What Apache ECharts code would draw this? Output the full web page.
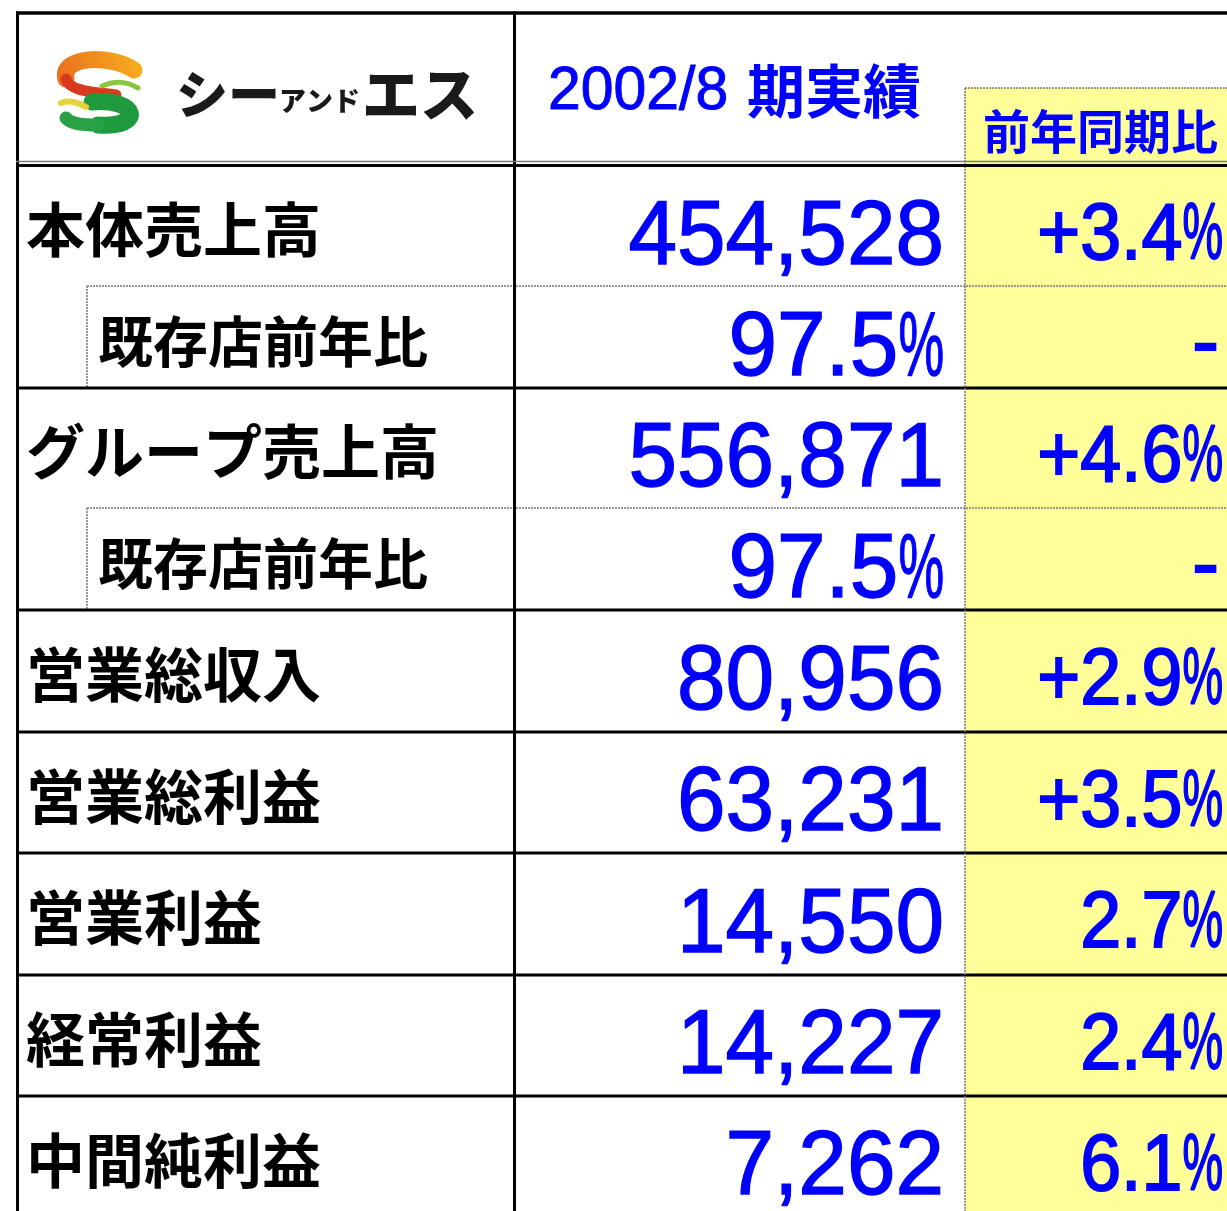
<!DOCTYPE html>
<html>
<head>
<meta charset="utf-8">
<script src="https://cdn.jsdelivr.net/npm/echarts@6/dist/echarts.min.js"></script>
<style>
  html, body { margin: 0; padding: 0; background: #fff; }
  #main { width: 1227px; height: 1211px; }
</style>
</head>
<body>
<div id="main"></div>
<script>
// 表の中身
const labels = ['本体売上高', '既存店前年比', 'グループ売上高', '既存店前年比', '営業総収入', '営業総利益', '営業利益', '経常利益', '中間純利益']
const indented = [false, true, false, true, false, false, false, false, false]
const values = [454528, 97.5, 556871, 97.5, 80956, 63231, 14550, 14227, 7262]
const valueUnits = ['', '%', '', '%', '', '', '', '', '']
const yoy = [3.4, null, 4.6, null, 2.9, 3.5, 2.7, 2.4, 6.1]
const yoyPlus = [true, false, true, false, true, true, false, false, false]

const periodLabel = '2002/8'
const periodSuffix = '期実績'
const yoyHeader = '前年同期比'

// レイアウト
const W = 1227, H = 1211
const tableTop = 166
const rowHeights = [120, 102, 120, 102, 122, 121, 122, 121, 121]
const rowTops = []
let acc = tableTop
rowHeights.forEach(h => { rowTops.push(acc); acc += h })

const NUM_FONT = '"Liberation Sans", Arial, sans-serif'
const JP_FONT = '"Noto Sans CJK JP", sans-serif'
const BLUE = '#0000ff'
const PCT_SX = 0.57

function fmtValue(i) {
  if (valueUnits[i] === '%') return values[i].toFixed(1)
  return values[i].toLocaleString('en-US')
}

// 数字 + 細い%を右寄せで並べる
function numPieces(right, cy, str, pct, size, sx, weight) {
  const out = []
  let r = right
  const st = { align: 'right', verticalAlign: 'middle', font: size + 'px ' + NUM_FONT, fill: BLUE, stroke: BLUE, lineWidth: weight }
  if (pct) {
    out.push({ type: 'text', x: r, y: cy, scaleX: PCT_SX, style: Object.assign({ text: '%' }, st) })
    r -= 0.889 * size * PCT_SX
  }
  out.push({ type: 'text', x: r, y: cy, scaleX: sx, style: Object.assign({ text: str }, st) })
  return out
}

function renderRow(params, api) {
  const i = api.value(0)
  const top = rowTops[i]
  const bottom = top + rowHeights[i]
  const mid = (top + bottom) / 2
  const c = (x, y) => api.coord([x, y])
  const kids = []

  if (i > 0) {
    if (indented[i]) {
      const a = c(87, top), b = c(W, top), d = c(87, bottom)
      kids.push({ type: 'line', shape: { x1: a[0], y1: a[1], x2: b[0], y2: b[1] },
        style: { stroke: '#7a7a7a', lineWidth: 1.5, lineDash: [2, 1] } })
      kids.push({ type: 'line', shape: { x1: a[0], y1: a[1], x2: d[0], y2: d[1] },
        style: { stroke: '#7a7a7a', lineWidth: 1.5, lineDash: [2, 1] } })
    } else {
      const a = c(16, top), b = c(W, top)
      kids.push({ type: 'line', shape: { x1: a[0], y1: a[1], x2: b[0], y2: b[1] },
        style: { stroke: '#000', lineWidth: 3 } })
    }
  }

  const lp = c(indented[i] ? 98 : 26, mid + 4)
  kids.push({
    type: 'text', x: lp[0], y: lp[1],
    style: { text: labels[i], align: 'left', verticalAlign: 'middle',
      font: 'bold ' + (indented[i] ? 55 : 59) + 'px ' + JP_FONT, fill: '#000' }
  })

  const vp = c(944, mid + 13)
  kids.push(...numPieces(vp[0], vp[1], fmtValue(i), valueUnits[i] === '%', 90, 0.97, 1.4))

  const yp = c(1223, mid + 11)
  if (yoy[i] == null) {
    const dp = c(1219, mid + 9)
    kids.push({
      type: 'text', x: dp[0], y: dp[1],
      style: { text: '-', align: 'right', verticalAlign: 'middle', font: '80px ' + NUM_FONT, fill: BLUE, stroke: BLUE, lineWidth: 2 }
    })
  } else {
    const s = (yoyPlus[i] ? '+' : '') + yoy[i].toFixed(1)
    kids.push(...numPieces(yp[0], yp[1], s, true, 80, 0.92, 2))
  }

  return { type: 'group', children: kids }
}

const chart = echarts.init(document.getElementById('main'))

const dotted = { stroke: '#7a7a7a', lineWidth: 1.5, lineDash: [2, 1] }

chart.setOption({
  animation: false,
  grid: { left: 0, right: 0, top: 0, bottom: 0 },
  xAxis: { type: 'value', min: 0, max: W, show: false },
  yAxis: { type: 'value', min: 0, max: H, inverse: true, show: false },
  graphic: [
    // 前年同期比の黄色い列
    { type: 'rect', z: -1, shape: { x: 965, y: 88, width: W - 965, height: H - 88 }, style: { fill: '#ffff99' } },
    { type: 'line', z: 50, shape: { x1: 965, y1: 88, x2: W, y2: 88 }, style: dotted },
    { type: 'line', z: 50, shape: { x1: 965, y1: 88, x2: 965, y2: H }, style: dotted },
    // 外枠
    { type: 'line', z: 60, shape: { x1: 16, y1: 13, x2: W, y2: 13 }, style: { stroke: '#000', lineWidth: 3.5 } },
    { type: 'line', z: 60, shape: { x1: 17.5, y1: 11.5, x2: 17.5, y2: H }, style: { stroke: '#000', lineWidth: 3 } },
    { type: 'line', z: 60, shape: { x1: 514.5, y1: 11.5, x2: 514.5, y2: H }, style: { stroke: '#000', lineWidth: 3 } },
    // ヘッダ下の二重線
    { type: 'line', z: 60, shape: { x1: 16, y1: 161.5, x2: W, y2: 161.5 }, style: { stroke: '#777', lineWidth: 1.5 } },
    { type: 'line', z: 60, shape: { x1: 16, y1: 165.5, x2: W, y2: 165.5 }, style: { stroke: '#000', lineWidth: 3 } },
    // ロゴ
    { type: 'bezierCurve', z: 20, shape: { x1: 134, y1: 70, cpx1: 110, cpy1: 54, cpx2: 60, cpy2: 56, x2: 66, y2: 79 },
      style: { stroke: new echarts.graphic.LinearGradient(1, 0, 0, 1, [{ offset: 0, color: '#f7b21e' }, { offset: 1, color: '#e96a1c' }]), lineWidth: 17, lineCap: 'round', fill: null } },
    { type: 'bezierCurve', z: 20, shape: { x1: 66, y1: 79, cpx1: 70, cpy1: 92, cpx2: 95, cpy2: 92, x2: 116, y2: 95 },
      style: { stroke: '#d83a1e', lineWidth: 11, lineCap: 'round', fill: null } },
    { type: 'bezierCurve', z: 20, shape: { x1: 102, y1: 86, cpx1: 115, cpy1: 80, cpx2: 128, cpy2: 82, x2: 138, y2: 88 },
      style: { stroke: '#8cc63f', lineWidth: 5, lineCap: 'round', fill: null } },
    { type: 'bezierCurve', z: 20, shape: { x1: 92, y1: 102, cpx1: 138, cpy1: 98, cpx2: 146, cpy2: 128, x2: 98, y2: 125 },
      style: { stroke: '#1f9a3e', lineWidth: 17, lineCap: 'round', fill: null } },
    { type: 'bezierCurve', z: 20, shape: { x1: 98, y1: 125, cpx1: 80, cpy1: 125, cpx2: 70, cpy2: 123, x2: 66, y2: 118 },
      style: { stroke: '#28a245', lineWidth: 13, lineCap: 'round', fill: null } },
    { type: 'bezierCurve', z: 20, shape: { x1: 61, y1: 103, cpx1: 68, cpy1: 100, cpx2: 78, cpy2: 102, x2: 86, y2: 107 },
      style: { stroke: '#e6d33a', lineWidth: 6, lineCap: 'round', fill: null } },
    { type: 'text', z: 20, x: 176, y: 94, style: { text: 'シー', font: '900 52px ' + JP_FONT, fill: '#1a1a1a', verticalAlign: 'middle' } },
    { type: 'text', z: 20, x: 279, y: 101, style: { text: 'アンド', font: '900 27px ' + JP_FONT, fill: '#1a1a1a', verticalAlign: 'middle' } },
    { type: 'text', z: 20, x: 362, y: 94, style: { text: 'エス', font: '900 58px ' + JP_FONT, fill: '#1a1a1a', verticalAlign: 'middle' } },
    // 見出し
    { type: 'text', z: 20, x: 548, y: 92, scaleX: 0.95, style: { text: periodLabel, font: '62px ' + NUM_FONT, fill: BLUE, stroke: BLUE, lineWidth: 1, verticalAlign: 'middle' } },
    { type: 'text', z: 20, x: 747, y: 91, style: { text: periodSuffix, font: 'bold 58px ' + JP_FONT, fill: BLUE, verticalAlign: 'middle' } },
    { type: 'text', z: 20, x: 983, y: 131, style: { text: yoyHeader, font: 'bold 47px ' + JP_FONT, fill: BLUE, verticalAlign: 'middle' } }
  ],
  series: [{
    type: 'custom',
    coordinateSystem: 'cartesian2d',
    clip: false,
    renderItem: renderRow,
    data: labels.map((l, i) => [i])
  }]
})
</script>
</body>
</html>
